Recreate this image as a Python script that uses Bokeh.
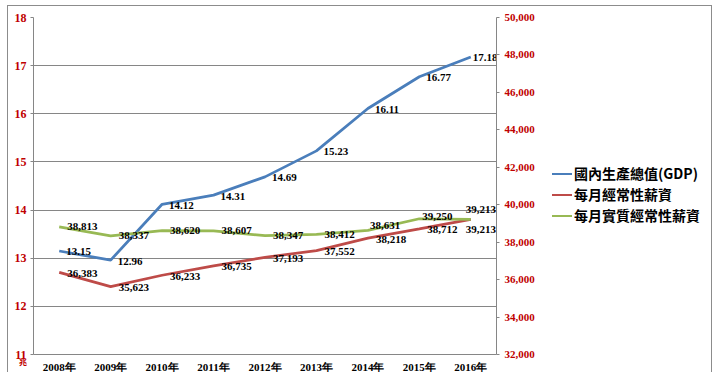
from bokeh.plotting import figure
from bokeh.models import (FactorRange, Range1d, LinearAxis, FixedTicker, NumeralTickFormatter,
                          ColumnDataSource, Div)
from bokeh.layouts import column
from bokeh.core.properties import value
from bokeh.embed import file_html
from bokeh.resources import INLINE

years = ["2008年", "2009年", "2010年", "2011年", "2012年", "2013年", "2014年", "2015年", "2016年"]
gdp = [13.15, 12.96, 14.12, 14.31, 14.69, 15.23, 16.11, 16.77, 17.18]
wage = [36383, 35623, 36233, 36735, 37193, 37552, 38218, 38712, 39213]
real_wage = [38813, 38337, 38620, 38607, 38347, 38412, 38631, 39250, 39213]
gdp_labels = ["13.15", "12.96", "14.12", "14.31", "14.69", "15.23", "16.11", "16.77", "17.18"]
wage_labels = ["36,383", "35,623", "36,233", "36,735", "37,193", "37,552", "38,218", "38,712", "39,213"]
real_labels = ["38,813", "38,337", "38,620", "38,607", "38,347", "38,412", "38,631", "39,250", "39,213"]
names = ["國內生產總值(GDP)", "每月經常性薪資", "每月實質經常性薪資"]
unit_text = "兆"

# label offsets (styling, screen px)
gdp_dx = [7, 7, 7, 7, 7, 7, 7, 7, 2]
gdp_dy = [1] * 9
wage_dx = [8, 8, 8, 8, 8, 8, 8, 8, -5]
wage_dy = [1, 1, 1, 1, 1, 1, 1, 1, 10]
real_dx = [8, 8, 8, 8, 8, 8, 2, 3, -5]
real_dy = [0, 0, 0, 0, 0, 0, -5, -2, -10]

BLUE = "#4a7ebb"
RED = "#be4b48"
GREEN = "#98b954"
colors = [BLUE, RED, GREEN]
AX_RED = "#c00000"
GRID = "#868686"
NUM_FONT = "Liberation Serif"
CJK_FONT = "Noto Sans CJK TC"

p = figure(x_range=FactorRange(factors=years, range_padding=0),
           y_range=Range1d(11, 18),
           frame_width=461, frame_height=336,
           min_border_left=25, min_border_top=11, min_border_bottom=19, min_border_right=217,
           output_backend="svg", toolbar_location=None,
           background_fill_color="white", border_fill_color="white")
p.margin = (5, 0, 0, 7)
p.styles = {"border-top": "1px solid #8c8c8c", "border-left": "1px solid #8c8c8c",
            "border-right": "1px solid #8c8c8c"}
p.extra_y_ranges = {"wage": Range1d(32000, 50000)}
p.outline_line_color = None

# axes
p.xaxis.axis_line_color = GRID
p.xaxis.major_tick_line_color = None
p.xaxis.major_tick_out = 0
p.xaxis.major_tick_in = 0
p.xaxis.minor_tick_line_color = None
p.xaxis.major_label_text_font = NUM_FONT
p.xaxis.major_label_text_font_style = "bold"
p.xaxis.major_label_text_font_size = "11px"
p.xaxis.major_label_text_color = "black"
p.xaxis.major_label_standoff = 6

p.yaxis.ticker = FixedTicker(ticks=list(range(11, 19)))
p.yaxis.axis_line_color = GRID
p.yaxis.major_tick_line_color = GRID
p.yaxis.major_tick_out = 3
p.yaxis.major_tick_in = 0
p.yaxis.minor_tick_line_color = None
p.yaxis.major_label_text_font = NUM_FONT
p.yaxis.major_label_text_font_style = "bold"
p.yaxis.major_label_text_font_size = "12px"
p.yaxis.major_label_text_color = AX_RED
p.yaxis.major_label_standoff = 4

ra = LinearAxis(y_range_name="wage", ticker=FixedTicker(ticks=list(range(32000, 50001, 2000))),
                formatter=NumeralTickFormatter(format="0,0"))
ra.axis_line_color = GRID
ra.major_tick_line_color = GRID
ra.major_tick_out = 3
ra.major_tick_in = 0
ra.minor_tick_line_color = None
ra.major_label_text_font = NUM_FONT
ra.major_label_text_font_style = "bold"
ra.major_label_text_font_size = "11px"
ra.major_label_text_color = AX_RED
ra.major_label_standoff = 5
p.add_layout(ra, "right")

p.xgrid.grid_line_color = None
p.ygrid.grid_line_color = GRID
p.ygrid.grid_line_width = 1

src = ColumnDataSource(dict(x=years, gdp=gdp, wage=wage, real=real_wage,
                            gl=gdp_labels, wl=wage_labels, rl=real_labels,
                            gdx=gdp_dx, gdy=gdp_dy, wdx=wage_dx, wdy=wage_dy,
                            rdx=real_dx, rdy=real_dy))

r1 = p.line("x", "gdp", source=src, line_color=BLUE, line_width=2.75)
r2 = p.line("x", "wage", source=src, line_color=RED, line_width=2.75, y_range_name="wage")
r3 = p.line("x", "real", source=src, line_color=GREEN, line_width=2.75, y_range_name="wage")

common = dict(text_font=value(NUM_FONT), text_font_style="bold", text_font_size="11px",
              text_color="black", text_align="left", text_baseline="middle")
p.text("x", "gdp", text="gl", x_offset="gdx", y_offset="gdy", source=src, **common)
p.text("x", "wage", text="wl", x_offset="wdx", y_offset="wdy", source=src,
       y_range_name="wage", **common)
p.text("x", "real", text="rl", x_offset="rdx", y_offset="rdy", source=src,
       y_range_name="wage", **common)

# legend (HTML, placed to the right of the plot like the original)
rows = "".join(
    '<div style="display:flex;align-items:center;height:21px;">'
    f'<span style="display:inline-block;width:20px;border-top:2.5px solid {c};margin-right:2px;"></span>'
    f'<span>{n}</span></div>'
    for n, c in zip(names, colors))
legend_div = Div(text=rows,
                 styles={"position": "absolute", "left": "547px", "top": "158px",
                         "color": "black", "font-weight": "bold", "font-size": "14px",
                         "font-family": CJK_FONT, "line-height": "21px", "white-space": "nowrap"})

unit = Div(text=unit_text,
           styles={"position": "absolute", "left": "14px", "top": "353px",
                   "color": AX_RED, "font-weight": "bold", "font-size": "8px",
                   "font-family": CJK_FONT, "line-height": "1"})

layout = column(p, unit, legend_div)
open("out.html", "w").write(file_html(layout, INLINE))
